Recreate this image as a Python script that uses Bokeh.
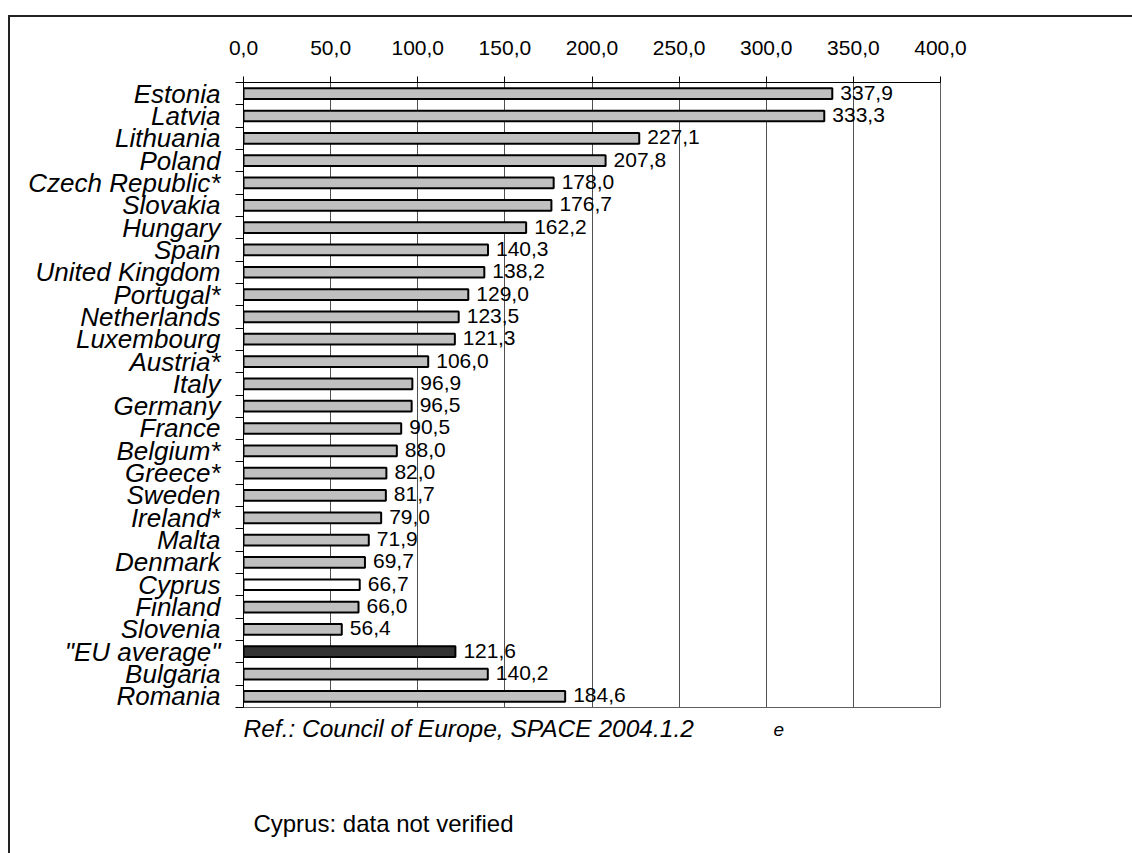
from bokeh.plotting import figure
from bokeh.models import Range1d, FixedTicker, ColumnDataSource, Column
from bokeh.core.properties import value
from bokeh.embed import file_html
from bokeh.resources import INLINE

# Prison population per 100 000 inhabitants
countries = [
    "Estonia", "Latvia", "Lithuania", "Poland", "Czech Republic*", "Slovakia",
    "Hungary", "Spain", "United Kingdom", "Portugal*", "Netherlands",
    "Luxembourg", "Austria*", "Italy", "Germany", "France", "Belgium*",
    "Greece*", "Sweden", "Ireland*", "Malta", "Denmark", "Cyprus", "Finland",
    "Slovenia", '"EU average"', "Bulgaria", "Romania",
]
rates = [
    337.9, 333.3, 227.1, 207.8, 178.0, 176.7, 162.2, 140.3, 138.2, 129.0,
    123.5, 121.3, 106.0, 96.9, 96.5, 90.5, 88.0, 82.0, 81.7, 79.0, 71.9,
    69.7, 66.7, 66.0, 56.4, 121.6, 140.2, 184.6,
]
x_ticks = [0, 50, 100, 150, 200, 250, 300, 350, 400]
x_tick_labels = ["0,0", "50,0", "100,0", "150,0", "200,0", "250,0", "300,0", "350,0", "400,0"]
source_note = "Ref.: Council of Europe, SPACE 2004.1.2"
cyprus_note = "Cyprus: data not verified"

n = len(countries)
centers = [i + 0.5 for i in range(n)]


def bar_fill(name):
    if name == "Cyprus":
        return "#ffffff"
    if name == '"EU average"':
        return "#333333"
    return "#c0c0c0"


src = ColumnDataSource(dict(
    y=centers,
    rate=rates,
    label=[f"{v:.1f}".replace(".", ",") for v in rates],
    fill=[bar_fill(c) for c in countries],
))

FONT = "Liberation Sans"
W = 1122          # width inside the page rule
LEFT, RIGHT = 233, 192

p = figure(
    width=W, height=695,
    x_range=Range1d(0, 400), y_range=Range1d(n, 0),
    x_axis_location="above",
    output_backend="svg", toolbar_location=None,
    min_border_left=LEFT, min_border_right=RIGHT,
    min_border_top=65, min_border_bottom=5,
    background_fill_color="white", border_fill_color="white",
)
p.outline_line_color = "#606060"
p.outline_line_width = 1

# value axis along the top
xa = p.xaxis[0]
xa.ticker = FixedTicker(ticks=x_ticks)
xa.major_label_overrides = dict(zip(x_ticks, x_tick_labels))
xa.major_tick_out = 6
xa.major_tick_in = 0
xa.minor_tick_line_color = None
xa.axis_line_color = "black"
xa.major_tick_line_color = "black"
xa.major_label_text_font = FONT
xa.major_label_text_font_size = "21px"
xa.major_label_text_color = "black"
xa.major_label_standoff = 22

# country axis: names at row centres, tick marks at row boundaries
ya = p.yaxis[0]
ya.ticker = FixedTicker(ticks=centers, minor_ticks=list(range(n + 1)))
ya.major_label_overrides = dict(zip(centers, countries))
ya.major_tick_out = 0
ya.major_tick_in = 0
ya.minor_tick_out = 8
ya.minor_tick_in = 0
ya.minor_tick_line_color = "black"
ya.axis_line_color = "black"
ya.major_label_text_font = FONT
ya.major_label_text_font_style = "italic"
ya.major_label_text_font_size = "26px"
ya.major_label_text_color = "black"
ya.major_label_standoff = 15

p.xgrid.ticker = FixedTicker(ticks=x_ticks)
p.xgrid.grid_line_color = "#505050"
p.xgrid.grid_line_width = 1
p.ygrid.grid_line_color = None

p.hbar(y="y", left=0, right="rate", height=0.48, source=src,
       fill_color="fill", line_color="black", line_width=2)

p.text(x="rate", y="y", text="label", source=src,
       x_offset=8, y_offset=-1, text_baseline="middle", text_align="left",
       text_font=value(FONT), text_font_size="21px", text_color="black")

# footnotes strip below the chart, sharing the value scale horizontally
notes = figure(
    width=W, height=141,
    x_range=p.x_range, y_range=Range1d(141, 0),
    x_axis_type=None, y_axis_type=None,
    output_backend="svg", toolbar_location=None,
    min_border_left=LEFT, min_border_right=RIGHT,
    min_border_top=0, min_border_bottom=0,
    background_fill_color="white", border_fill_color="white",
)
notes.outline_line_color = None
notes.grid.grid_line_color = None

notes.text(x=[0], y=[15.5], text=[source_note], text_baseline="alphabetic",
           text_font=value(FONT), text_font_style="italic",
           text_font_size="24.5px", text_color="black")
notes.text(x=[304.2], y=[16.5], text=["e"], text_baseline="alphabetic",
           text_font=value(FONT), text_font_style="italic",
           text_font_size="19px", text_color="black")
notes.text(x=[5.7], y=[111.2], text=[cyprus_note], text_baseline="alphabetic",
           text_font=value(FONT), text_font_size="24px", text_color="black")

page = Column(
    children=[p, notes], spacing=0,
    styles={
        "margin-left": "8px", "margin-top": "15px",
        "border-top": "2px solid #222222", "border-left": "2px solid #222222",
    },
)

open("out.html", "w").write(file_html(page, INLINE))
